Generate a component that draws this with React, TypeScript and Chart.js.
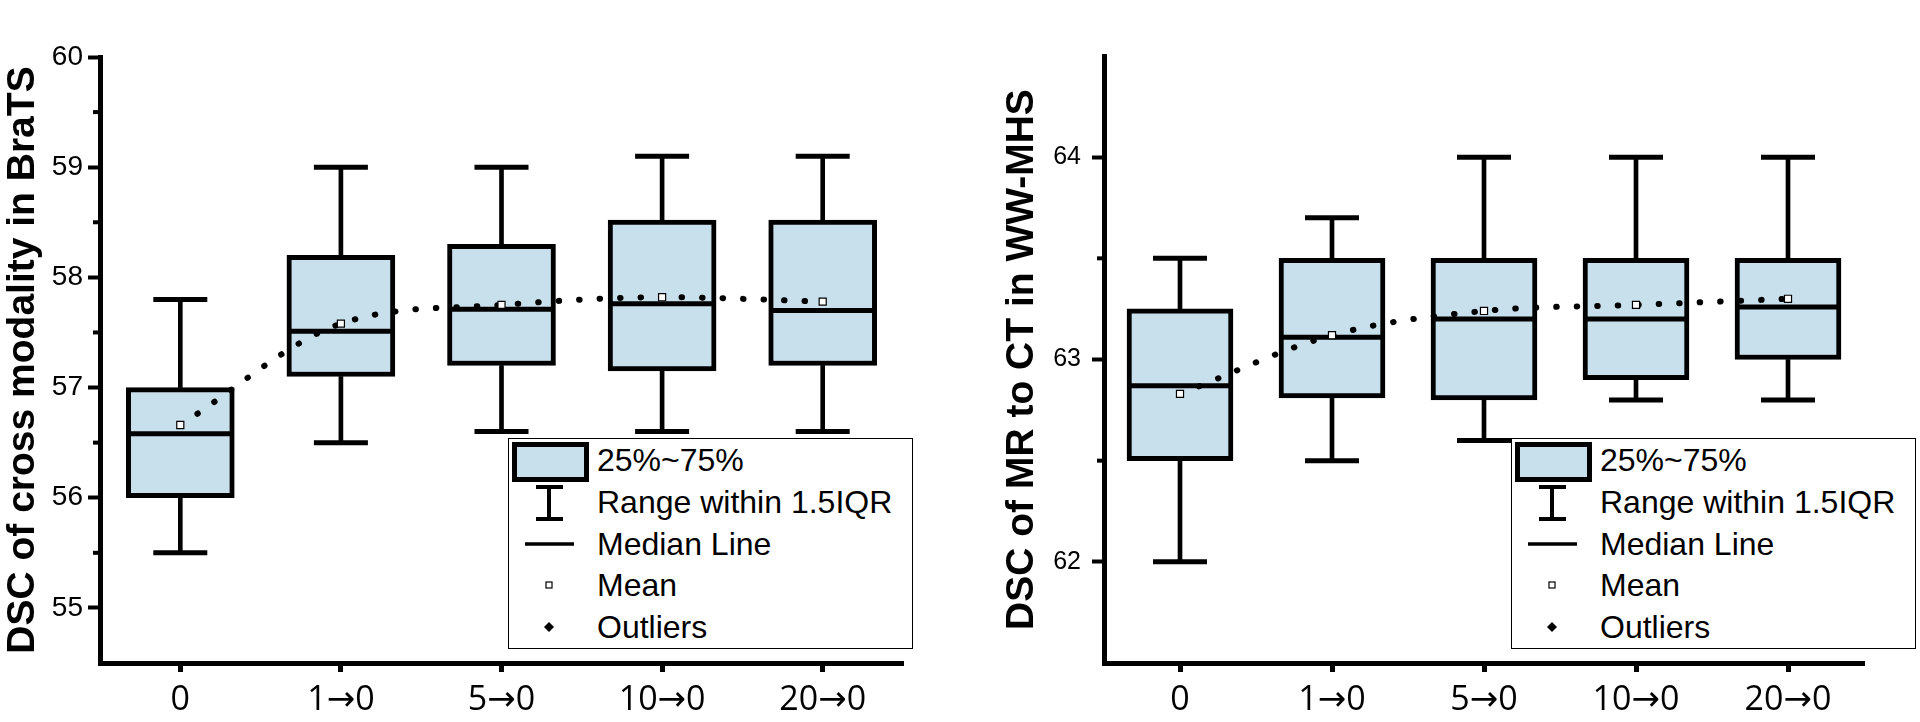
import React, { useEffect, useRef } from 'react';
import { Chart, registerables } from 'chart.js';

Chart.register(...registerables);

const FONT = "'Liberation Sans', Arial, Helvetica, sans-serif";
const XFONT = "'Open Sans', 'DejaVu Sans', sans-serif";
const BOX_FILL = 'rgb(200,223,236)';

// Shared categories
const categories = ['0', '1→0', '5→0', '10→0', '20→0'];

// Left chart: DSC of cross modality in BraTS
const brMin = [55.5, 56.5, 56.6, 56.6, 56.6];
const brQ1 = [56.0, 57.1, 57.2, 57.15, 57.2];
const brMedian = [56.58, 57.51, 57.71, 57.76, 57.7];
const brQ3 = [57.0, 58.2, 58.3, 58.52, 58.52];
const brMax = [57.8, 59.0, 59.0, 59.1, 59.1];
const brMean = [56.66, 57.58, 57.75, 57.82, 57.78];
const brTicks = [55, 56, 57, 58, 59, 60];
const brMinorTicks = [55.5, 56.5, 57.5, 58.5, 59.5];

// Right chart: DSC of MR to CT in WW-MHS
const wwMin = [62.0, 62.5, 62.6, 62.8, 62.8];
const wwQ1 = [62.5, 62.81, 62.8, 62.9, 63.0];
const wwMedian = [62.87, 63.11, 63.2, 63.2, 63.26];
const wwQ3 = [63.25, 63.5, 63.5, 63.5, 63.5];
const wwMax = [63.5, 63.7, 64.0, 64.0, 64.0];
const wwMean = [62.83, 63.12, 63.24, 63.27, 63.3];
const wwTicks = [62, 63, 64];
const wwMinorTicks = [62.5, 63.5];

const legendLabels = ['25%~75%', 'Range within 1.5IQR', 'Median Line', 'Mean', 'Outliers'];

type Spec = {
  min: number[]; q1: number[]; median: number[]; q3: number[]; max: number[]; mean: number[];
  yMin: number; yMax: number; ticks: number[]; minor: number[];
  title: string; tickFont: number; tickPad: number; yWidth: number; titlePad: number;
  padRight: number; boxW: number;
};

function minorTickPlugin(minor: number[]) {
  return {
    id: 'minorTicks',
    afterDraw(chart: any) {
      const ctx = chart.ctx;
      const y = chart.scales.y;
      const left = chart.chartArea.left;
      ctx.save();
      ctx.strokeStyle = '#000';
      ctx.lineWidth = 4;
      minor.forEach((v) => {
        const py = y.getPixelForValue(v);
        ctx.beginPath();
        ctx.moveTo(left - 7, py);
        ctx.lineTo(left, py);
        ctx.stroke();
      });
      ctx.restore();
    },
  };
}

function makeConfig(s: Spec): any {
  const capR = 27;
  return {
    type: 'bar',
    data: {
      labels: categories,
      datasets: [
        {
          type: 'bar', data: s.q1.map((v, i) => [s.min[i], v]), backgroundColor: '#000',
          borderWidth: 0, barThickness: 4, grouped: false, order: 9,
        },
        {
          type: 'bar', data: s.q3.map((v, i) => [v, s.max[i]]), backgroundColor: '#000',
          borderWidth: 0, barThickness: 4, grouped: false, order: 8,
        },
        {
          type: 'bar', data: s.q1.map((v, i) => [v, s.q3[i]]), backgroundColor: BOX_FILL,
          borderColor: '#000', borderWidth: 5, borderSkipped: false, barThickness: s.boxW,
          grouped: false, order: 7,
        },
        {
          type: 'line', data: s.min, showLine: false, pointStyle: 'line', pointRadius: capR,
          pointBorderWidth: 5, pointBorderColor: '#000', order: 6,
        },
        {
          type: 'line', data: s.max, showLine: false, pointStyle: 'line', pointRadius: capR,
          pointBorderWidth: 5, pointBorderColor: '#000', order: 5,
        },
        {
          type: 'line', data: s.median, showLine: false, pointStyle: 'line',
          pointRadius: s.boxW / 2 - 2, pointBorderWidth: 5, pointBorderColor: '#000', order: 4,
        },
        {
          type: 'line', data: s.mean, borderColor: '#000', borderWidth: 6,
          borderDash: [0.5, 20], borderCapStyle: 'round', pointRadius: 0,
          cubicInterpolationMode: 'monotone', fill: false, order: 3,
        },
        {
          type: 'line', data: s.mean, showLine: false, pointStyle: 'rect', pointRadius: 5,
          pointBackgroundColor: '#fff', pointBorderColor: '#000', pointBorderWidth: 1.2, order: 1,
        },
      ],
    },
    options: {
      animation: false,
      responsive: false,
      maintainAspectRatio: false,
      events: [],
      layout: { padding: { left: 0, top: 15, right: s.padRight, bottom: 0 } },
      plugins: { legend: { display: false }, tooltip: { enabled: false } },
      scales: {
        x: {
          type: 'category',
          offset: true,
          grid: {
            display: true, drawOnChartArea: false, drawTicks: true, tickLength: 9,
            tickWidth: 5, tickColor: '#000', offset: false,
          },
          border: { display: true, color: '#000', width: 5 },
          ticks: {
            color: '#000', font: { family: XFONT, size: 34 }, padding: 8,
            maxRotation: 0, autoSkip: false,
          },
          afterFit: (sc: any) => { sc.height = 59; },
        },
        y: {
          type: 'linear',
          min: s.yMin,
          max: s.yMax,
          afterBuildTicks: (sc: any) => { sc.ticks = s.ticks.map((v) => ({ value: v })); },
          grid: {
            display: true, drawOnChartArea: false, drawTicks: true, tickLength: 12,
            tickWidth: 4, tickColor: '#000',
          },
          border: { display: true, color: '#000', width: 5 },
          ticks: { color: '#000', font: { family: FONT, size: s.tickFont }, padding: s.tickPad },
          title: {
            display: true, text: s.title, color: '#000',
            font: { family: FONT, size: 39, weight: 'bold' },
            padding: { top: s.titlePad, bottom: 0 },
          },
          afterFit: (sc: any) => { sc.width = s.yWidth; },
        },
      },
    },
    plugins: [minorTickPlugin(s.minor)],
  };
}

function BoxChart({ spec, left }: { spec: Spec; left: number }) {
  const ref = useRef<HTMLCanvasElement>(null);
  useEffect(() => {
    if (!ref.current) return;
    const chart = new Chart(ref.current, makeConfig(spec));
    return () => chart.destroy();
  }, []);
  return (
    <canvas
      ref={ref}
      width={960}
      height={722}
      style={{ position: 'absolute', left, top: 0, width: 960, height: 722, display: 'block' }}
    />
  );
}

function Legend({ left, top }: { left: number; top: number }) {
  const rows = [22, 64, 106, 147, 189];
  return (
    <div
      style={{
        position: 'absolute', left, top, width: 405, height: 211, boxSizing: 'border-box',
        border: '1.5px solid #000', background: '#fff', fontFamily: FONT,
      }}
    >
      <svg width={405} height={211} style={{ position: 'absolute', left: -1.5, top: -1.5 }}>
        <rect x={6.5} y={6.5} width={72} height={35} fill={BOX_FILL} stroke="#000" strokeWidth={5} />
        <line x1={41} y1={47} x2={41} y2={83} stroke="#000" strokeWidth={4} />
        <line x1={28} y1={49} x2={55} y2={49} stroke="#000" strokeWidth={4} />
        <line x1={28} y1={81} x2={55} y2={81} stroke="#000" strokeWidth={4} />
        <line x1={17} y1={106} x2={66} y2={106} stroke="#000" strokeWidth={3.5} />
        <rect x={38} y={144} width={6} height={6} fill="#fff" stroke="#000" strokeWidth={1.2} />
        <polygon points="41,184 46,189 41,194 36,189" fill="#000" />
      </svg>
      {legendLabels.map((t, i) => (
        <div
          key={t}
          style={{
            position: 'absolute', left: 88, top: rows[i] - 20 - 1.5, height: 40,
            lineHeight: '40px', fontSize: 32, color: '#000', whiteSpace: 'nowrap',
          }}
        >
          {t}
        </div>
      ))}
    </div>
  );
}

const leftSpec: Spec = {
  min: brMin, q1: brQ1, median: brMedian, q3: brQ3, max: brMax, mean: brMean,
  yMin: 54.5, yMax: 60, ticks: brTicks, minor: brMinorTicks,
  title: 'DSC of cross modality in BraTS', tickFont: 28, tickPad: 5, yWidth: 100, titlePad: 0,
  padRight: 54, boxW: 108,
};

const rightSpec: Spec = {
  min: wwMin, q1: wwQ1, median: wwMedian, q3: wwQ3, max: wwMax, mean: wwMean,
  yMin: 61.5, yMax: 64.5, ticks: wwTicks, minor: wwMinorTicks,
  title: 'DSC of MR to CT in WW-MHS', tickFont: 25, tickPad: 11, yWidth: 144, titlePad: 39,
  padRight: 8, boxW: 106,
};

export default function App() {
  return (
    <div style={{ position: 'fixed', left: 0, top: 0, width: 1920, height: 722, background: '#fff', overflow: 'hidden' }}>
      <BoxChart spec={leftSpec} left={0} />
      <BoxChart spec={rightSpec} left={960} />
      <Legend left={508} top={438} />
      <Legend left={1511} top={438} />
    </div>
  );
}
